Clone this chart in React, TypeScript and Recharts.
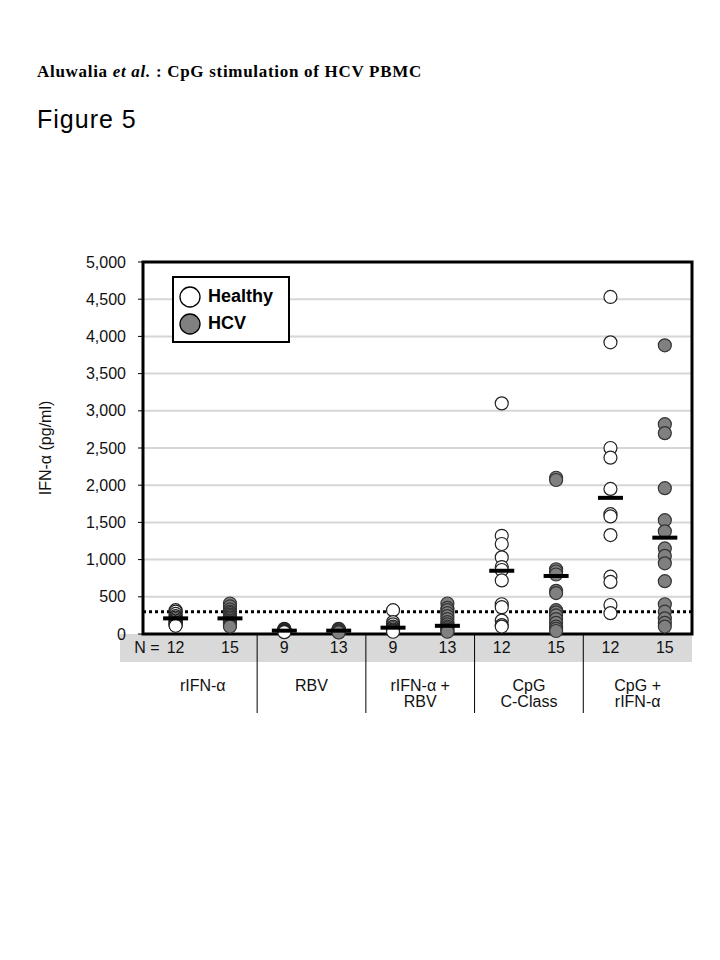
import React from 'react';
import {
  ScatterChart, Scatter, XAxis, YAxis, CartesianGrid, ReferenceLine, ReferenceArea, Legend,
} from 'recharts';

// five stimulation groups, each with a Healthy and an HCV column
const groupLabels = [['rIFN-α'], ['RBV'], ['rIFN-α +', 'RBV'], ['CpG', 'C-Class'], ['CpG +', 'rIFN-α']];
const healthyN = [12, 9, 9, 12, 12];
const hcvN = [15, 13, 13, 15, 15];

const healthyValues = [
  [320, 300, 270, 240, 220, 200, 180, 160, 150, 130, 120, 110],
  [70, 60, 55, 50, 45, 40, 35, 30, 25],
  [320, 160, 130, 100, 80, 60, 50, 40, 30],
  [3100, 1320, 1210, 1030, 900, 860, 720, 400, 360, 180, 120, 100],
  [4530, 3920, 2500, 2370, 1950, 1610, 1580, 1330, 770, 700, 390, 280],
];
const hcvValues = [
  [410, 370, 330, 300, 280, 260, 240, 220, 200, 180, 160, 150, 130, 110, 100],
  [70, 65, 60, 55, 50, 45, 40, 40, 35, 30, 30, 25, 20],
  [410, 350, 320, 280, 240, 200, 160, 130, 100, 80, 60, 40, 30],
  [2100, 2070, 870, 840, 800, 580, 550, 320, 290, 250, 200, 150, 100, 70, 40],
  [3880, 2820, 2700, 1960, 1530, 1380, 1150, 1050, 950, 710, 400, 300, 210, 150, 100],
];
const healthyMedian = [210, 45, 85, 850, 1830];
const hcvMedian = [210, 45, 110, 780, 1295];

const cutoff = 300;
const yTicks = [0, 500, 1000, 1500, 2000, 2500, 3000, 3500, 4000, 4500, 5000];

const FONT = '"Liberation Sans", Arial, sans-serif';
const GREY = '#808080';

const healthyPts = healthyValues.flatMap((vals, g) => vals.map(v => ({ x: g * 2 + 1, y: v })));
const hcvPts = hcvValues.flatMap((vals, g) => vals.map(v => ({ x: g * 2 + 2, y: v })));
const medianPts = groupLabels.flatMap((_, g) => [
  { x: g * 2 + 1, y: healthyMedian[g] },
  { x: g * 2 + 2, y: hcvMedian[g] },
]);
const colN = groupLabels.flatMap((_, g) => [healthyN[g], hcvN[g]]);
// ticks: columns (integers), group centres (x.5 odd) and group separators (x.5 even)
const axisTicks = groupLabels.flatMap((_, g) =>
  g < groupLabels.length - 1
    ? [g * 2 + 1, g * 2 + 1.5, g * 2 + 2, g * 2 + 2.5]
    : [g * 2 + 1, g * 2 + 1.5, g * 2 + 2]);

const N_ROW = 28;
const AXIS_H = 80;

const Dot = (fill: string, stroke: string) => (props: any) => (
  <circle cx={props.cx} cy={props.cy} r={6.5} fill={fill} stroke={stroke} strokeWidth={1.2} />
);

const MedianBar = (props: any) => (
  <rect x={props.cx - 12.5} y={props.cy - 2} width={25} height={4} fill="#000" />
);

const txt = { fontFamily: FONT, fontSize: 16, fill: '#111' };

const BottomTick = (props: any) => {
  const { x, y, payload } = props;
  const v = payload.value;
  if (Number.isInteger(v)) {
    return (
      <g>
        {v === 1 && <text x={x - 16} y={y + 19} textAnchor="end" {...txt}>N =</text>}
        <text x={x} y={y + 19} textAnchor="middle" {...txt}>{colN[v - 1]}</text>
      </g>
    );
  }
  const pos = (v - 1.5) / 2;
  if (Number.isInteger(pos)) {
    return (
      <g>
        {groupLabels[pos].map((line, i) => (
          <text key={i} x={x} y={y + N_ROW + 29 + i * 16} textAnchor="middle" {...txt}>{line}</text>
        ))}
      </g>
    );
  }
  return <line x1={x} x2={x} y1={y} y2={y + 79} stroke="#000" strokeWidth={1} />;
};

const LegendBox = () => (
  <div style={{ border: '2px solid #000', background: '#fff', width: 114, padding: '5px 0 4px 0', fontFamily: FONT }}>
    {[{ name: 'Healthy', fill: '#fff' }, { name: 'HCV', fill: GREY }].map(s => (
      <div key={s.name} style={{ display: 'flex', alignItems: 'center', height: 27 }}>
        <svg width={30} height={24}>
          <circle cx={16} cy={12} r={10} fill={s.fill} stroke="#000" strokeWidth={1.3} />
        </svg>
        <span style={{ fontSize: 18, fontWeight: 'bold', marginLeft: 4 }}>{s.name}</span>
      </div>
    ))}
  </div>
);

export default function App() {
  return (
    <div style={{ position: 'absolute', left: 0, top: 0, width: 720, height: 960, background: '#fff' }}>
      <div style={{ position: 'absolute', left: 37, top: 63, fontFamily: '"Liberation Serif", "Times New Roman", serif', fontSize: 17, fontWeight: 'bold', lineHeight: '17px', letterSpacing: 0.7, whiteSpace: 'nowrap' }}>
        Aluwalia <i>et al.</i> : CpG stimulation of HCV PBMC
      </div>
      <div style={{ position: 'absolute', left: 37, top: 107, fontFamily: FONT, fontSize: 25, lineHeight: '25px', letterSpacing: 1, whiteSpace: 'nowrap' }}>
        Figure 5
      </div>
      <div style={{ position: 'absolute', left: 120, top: 634, width: 572, height: N_ROW, background: '#d9d9d9' }} />
      <div style={{ position: 'absolute', left: 0, top: 0 }}>
        <ScatterChart width={720} height={760} margin={{ top: 262, right: 28, bottom: 46, left: 43 }}>
          <CartesianGrid vertical={false} stroke="#d6d6d6" strokeWidth={2} />
          <XAxis
            type="number"
            dataKey="x"
            domain={[0.4, 10.5]}
            ticks={axisTicks}
            interval={0}
            axisLine={false}
            tickLine={false}
            tickSize={0}
            tickMargin={0}
            height={AXIS_H}
            tick={BottomTick}
          />
          <YAxis
            type="number"
            dataKey="y"
            domain={[0, 5000]}
            ticks={yTicks}
            interval={0}
            width={100}
            axisLine={false}
            tickLine={{ stroke: '#000' }}
            tickSize={5}
            tickMargin={12}
            tickFormatter={(v: number) => v.toLocaleString('en-US')}
            tick={{ fontFamily: FONT, fontSize: 16, fill: '#111' }}
            label={{ value: 'IFN-α (pg/ml)', angle: -90, position: 'insideLeft', offset: 2, style: { textAnchor: 'middle', fontFamily: FONT, fontSize: 16, fill: '#111' } }}
          />
          <ReferenceLine y={cutoff} stroke="#000" strokeWidth={3} strokeDasharray="3 3" />
          <Scatter name="Healthy" data={healthyPts} shape={Dot('#fff', '#222')} isAnimationActive={false} />
          <Scatter name="HCV" data={hcvPts} shape={Dot(GREY, '#333')} isAnimationActive={false} />
          <Scatter name="median" data={medianPts} shape={MedianBar} legendType="none" isAnimationActive={false} />
          <ReferenceArea x1={0.4} x2={10.5} y1={0} y2={5000} fill="none" stroke="#000" strokeWidth={3} ifOverflow="visible" />
          <Legend
            layout="vertical"
            align="center"
            verticalAlign="middle"
            content={LegendBox}
            wrapperStyle={{ left: 172, top: 276, width: 'auto', height: 'auto' }}
          />
        </ScatterChart>
      </div>
    </div>
  );
}
